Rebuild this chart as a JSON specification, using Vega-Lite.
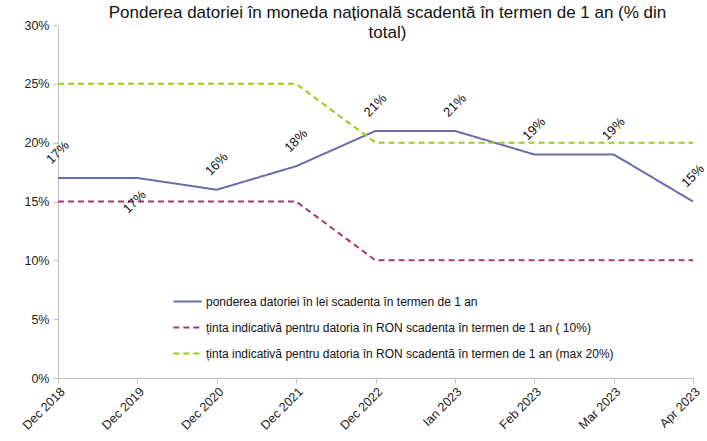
{
  "$schema": "https://vega.github.io/schema/vega-lite/v6.json",
  "width": 635,
  "height": 353,
  "autosize": {"type": "none"},
  "padding": {"left": 58, "top": 25, "right": 14, "bottom": 63},
  "background": "white",
  "config": {
    "view": {"stroke": null},
    "font": "Liberation Sans",
    "axis": {"grid": false, "domainColor": "#BFBFBF", "tickColor": "#BFBFBF", "labelColor": "#222222", "labelFont": "Liberation Sans", "labelFontSize": 12.5, "tickSize": 5, "title": null}
  },
  "title": {
    "text": ["Ponderea datoriei în moneda națională scadentă în termen de 1 an (% din", "total)"],
    "anchor": "middle",
    "frame": "group",
    "baseline": "top",
    "font": "Liberation Sans",
    "fontSize": 17,
    "fontWeight": "normal",
    "color": "#111111",
    "lineHeight": 20,
    "dx": 12,
    "dy": 23,
    "offset": 0
  },
  "data": {
    "values": [
      {"date": "Dec 2018", "series": "ponderea datoriei în lei scadenta în termen de 1 an", "value": 0.17},
      {"date": "Dec 2019", "series": "ponderea datoriei în lei scadenta în termen de 1 an", "value": 0.17},
      {"date": "Dec 2020", "series": "ponderea datoriei în lei scadenta în termen de 1 an", "value": 0.16},
      {"date": "Dec 2021", "series": "ponderea datoriei în lei scadenta în termen de 1 an", "value": 0.18},
      {"date": "Dec 2022", "series": "ponderea datoriei în lei scadenta în termen de 1 an", "value": 0.21},
      {"date": "Ian 2023", "series": "ponderea datoriei în lei scadenta în termen de 1 an", "value": 0.21},
      {"date": "Feb 2023", "series": "ponderea datoriei în lei scadenta în termen de 1 an", "value": 0.19},
      {"date": "Mar 2023", "series": "ponderea datoriei în lei scadenta în termen de 1 an", "value": 0.19},
      {"date": "Apr 2023", "series": "ponderea datoriei în lei scadenta în termen de 1 an", "value": 0.15},
      {"date": "Dec 2018", "series": "ținta indicativă pentru datoria în RON scadenta în termen de  1 an ( 10%)", "value": 0.15},
      {"date": "Dec 2019", "series": "ținta indicativă pentru datoria în RON scadenta în termen de  1 an ( 10%)", "value": 0.15},
      {"date": "Dec 2020", "series": "ținta indicativă pentru datoria în RON scadenta în termen de  1 an ( 10%)", "value": 0.15},
      {"date": "Dec 2021", "series": "ținta indicativă pentru datoria în RON scadenta în termen de  1 an ( 10%)", "value": 0.15},
      {"date": "Dec 2022", "series": "ținta indicativă pentru datoria în RON scadenta în termen de  1 an ( 10%)", "value": 0.10},
      {"date": "Ian 2023", "series": "ținta indicativă pentru datoria în RON scadenta în termen de  1 an ( 10%)", "value": 0.10},
      {"date": "Feb 2023", "series": "ținta indicativă pentru datoria în RON scadenta în termen de  1 an ( 10%)", "value": 0.10},
      {"date": "Mar 2023", "series": "ținta indicativă pentru datoria în RON scadenta în termen de  1 an ( 10%)", "value": 0.10},
      {"date": "Apr 2023", "series": "ținta indicativă pentru datoria în RON scadenta în termen de  1 an ( 10%)", "value": 0.10},
      {"date": "Dec 2018", "series": "ținta indicativă pentru datoria în RON scadentă în termen de  1 an (max 20%)", "value": 0.25},
      {"date": "Dec 2019", "series": "ținta indicativă pentru datoria în RON scadentă în termen de  1 an (max 20%)", "value": 0.25},
      {"date": "Dec 2020", "series": "ținta indicativă pentru datoria în RON scadentă în termen de  1 an (max 20%)", "value": 0.25},
      {"date": "Dec 2021", "series": "ținta indicativă pentru datoria în RON scadentă în termen de  1 an (max 20%)", "value": 0.25},
      {"date": "Dec 2022", "series": "ținta indicativă pentru datoria în RON scadentă în termen de  1 an (max 20%)", "value": 0.20},
      {"date": "Ian 2023", "series": "ținta indicativă pentru datoria în RON scadentă în termen de  1 an (max 20%)", "value": 0.20},
      {"date": "Feb 2023", "series": "ținta indicativă pentru datoria în RON scadentă în termen de  1 an (max 20%)", "value": 0.20},
      {"date": "Mar 2023", "series": "ținta indicativă pentru datoria în RON scadentă în termen de  1 an (max 20%)", "value": 0.20},
      {"date": "Apr 2023", "series": "ținta indicativă pentru datoria în RON scadentă în termen de  1 an (max 20%)", "value": 0.20}
    ]
  },
  "encoding": {
    "x": {
      "field": "date", "type": "ordinal",
      "scale": {"type": "point", "padding": 0, "domain": ["Dec 2018", "Dec 2019", "Dec 2020", "Dec 2021", "Dec 2022", "Ian 2023", "Feb 2023", "Mar 2023", "Apr 2023"]},
      "axis": {"labelAngle": -45, "labelAlign": "right", "labelBaseline": "top", "labelPadding": 2}
    },
    "y": {
      "field": "value", "type": "quantitative",
      "scale": {"domain": [0, 0.3], "nice": false, "zero": true},
      "axis": {"values": [0, 0.05, 0.1, 0.15, 0.2, 0.25, 0.3], "format": ".0%", "labelPadding": 4}
    }
  },
  "layer": [
    {
      "mark": {"type": "line", "strokeWidth": 2},
      "encoding": {
        "color": {
          "field": "series", "type": "nominal", "title": null,
          "scale": {
            "domain": ["ponderea datoriei în lei scadenta în termen de 1 an", "ținta indicativă pentru datoria în RON scadenta în termen de  1 an ( 10%)", "ținta indicativă pentru datoria în RON scadentă în termen de  1 an (max 20%)"],
            "range": ["#6B6BAA", "#A5386E", "#9BCB14"]
          },
          "legend": {
            "orient": "none", "legendX": 114, "legendY": 261,
            "symbolType": "stroke", "symbolSize": 800, "symbolStrokeWidth": 2,
            "labelFont": "Liberation Sans", "labelFontSize": 12, "labelColor": "#111111",
            "labelLimit": 600, "rowPadding": 4, "labelOffset": 3
          }
        },
        "strokeDash": {
          "field": "series", "type": "nominal", "title": null,
          "scale": {
            "domain": ["ponderea datoriei în lei scadenta în termen de 1 an", "ținta indicativă pentru datoria în RON scadenta în termen de  1 an ( 10%)", "ținta indicativă pentru datoria în RON scadentă în termen de  1 an (max 20%)"],
            "range": [[1, 0], [6, 4], [6, 4]]
          }
        }
      }
    },
    {
      "transform": [
        {"filter": "datum.series === 'ponderea datoriei în lei scadenta în termen de 1 an' && datum.date !== 'Dec 2019'"}
      ],
      "mark": {"type": "text", "angle": -45, "align": "center", "baseline": "middle", "dx": 18, "dy": -18, "fontSize": 13, "font": "Liberation Sans", "color": "#111111"},
      "encoding": {"text": {"field": "value", "type": "quantitative", "format": ".0%"}}
    },
    {
      "transform": [
        {"filter": "datum.series === 'ponderea datoriei în lei scadenta în termen de 1 an' && datum.date === 'Dec 2019'"}
      ],
      "mark": {"type": "text", "angle": -45, "align": "center", "baseline": "middle", "dx": -19, "dy": 15, "fontSize": 13, "font": "Liberation Sans", "color": "#111111"},
      "encoding": {"text": {"field": "value", "type": "quantitative", "format": ".0%"}}
    }
  ]
}
